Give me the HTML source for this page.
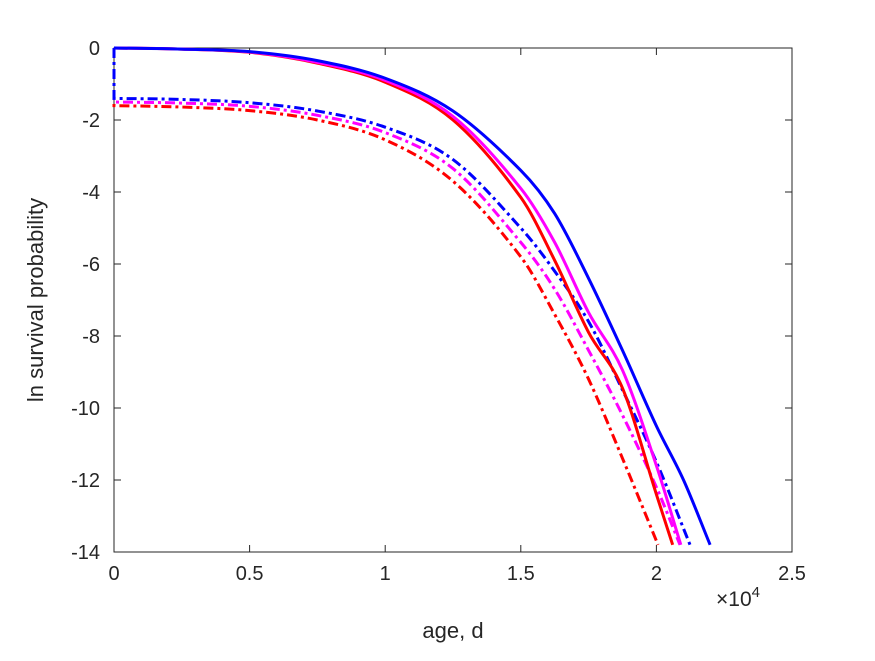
<!DOCTYPE html>
<html><head><meta charset="utf-8"><style>
body{margin:0;background:#fff;font-family:"Liberation Sans",sans-serif}
svg text{font-family:"Liberation Sans",sans-serif;fill:#262626}
</style></head><body>
<svg width="875" height="656">
<g id="axes"></g>
<g id="series"></g>
</svg>
<script>
const xTicks=[0,0.5,1,1.5,2,2.5];
const yTicks=[0,-2,-4,-6,-8,-10,-12,-14];
const blueSolidT=[0,0.25,0.5,0.75,1,1.25,1.5,1.625,1.75,1.875,2,2.1,2.198];
const blueSolid=[0,-0.03,-0.1,-0.35,-0.84,-1.75,-3.4,-4.6,-6.4,-8.4,-10.5,-12.0,-13.8];
const magentaSolidT=[0,0.25,0.5,0.75,1,1.25,1.5,1.625,1.75,1.875,2,2.09];
const magentaSolid=[0,-0.03,-0.11,-0.4,-0.9,-1.9,-3.9,-5.4,-7.35,-8.95,-11.6,-13.8];
const redSolidT=[0,0.25,0.5,0.75,1,1.25,1.5,1.625,1.75,1.875,2,2.06];
const redSolid=[0,-0.03,-0.12,-0.42,-0.95,-2.0,-4.15,-5.9,-7.9,-9.45,-12.4,-13.8];
const blueDashT=[0,0.25,0.5,0.75,1,1.25,1.5,1.625,1.75,1.875,2,2.124];
const blueDash=[-1.4,-1.43,-1.52,-1.75,-2.2,-3.1,-5.0,-6.2,-7.6,-9.5,-11.5,-13.8];
const magentaDashT=[0,0.25,0.5,0.75,1,1.25,1.5,1.625,1.75,1.875,2,2.087];
const magentaDash=[-1.5,-1.53,-1.62,-1.87,-2.35,-3.35,-5.4,-6.7,-8.4,-10.2,-12.2,-13.8];
const redDashT=[0,0.25,0.5,0.75,1,1.25,1.5,1.625,1.75,1.875,2.006];
const redDash=[-1.6,-1.64,-1.74,-2.0,-2.55,-3.7,-5.8,-7.4,-9.2,-11.4,-13.8];
const L=114,R=792,T=48,B=552;
const X=t=>L+(t-0)/(2.5)*(R-L);
const Y=v=>T+(0-v)/14*(B-T);
const NS="http://www.w3.org/2000/svg";
function mk(tag,attrs,parent){const e=document.createElementNS(NS,tag);for(const k in attrs)e.setAttribute(k,attrs[k]);parent.appendChild(e);return e;}
const ax=document.getElementById('axes');
const box=mk('rect',{x:L,y:T,width:R-L,height:B-T,fill:'none',stroke:'#262626','stroke-width':1},ax);


xTicks.forEach(t=>{
 const l=mk('path',{d:`M${X(t)},${B}v-7M${X(t)},${T}v7`,stroke:'#262626'},ax);
 
 
 const tx=mk('text',{x:X(t),y:B+28,'text-anchor':'middle','font-size':20},ax);tx.textContent=String(t);
 
 
});
yTicks.forEach(v=>{
 const l=mk('path',{d:`M${L},${Y(v)}h7M${R},${Y(v)}h-7`,stroke:'#262626'},ax);
 
 
 const tx=mk('text',{x:L-14,y:Y(v)+7,'text-anchor':'end','font-size':20},ax);tx.textContent=String(v);
 
 
});
const xl=mk('text',{x:453,y:638,'text-anchor':'middle','font-size':22},ax);xl.textContent='age, d';


const yl=mk('text',{x:0,y:0,'text-anchor':'middle','font-size':22,transform:`translate(43,300) rotate(-90)`},ax);yl.textContent='ln survival probability';


const ex=mk('text',{x:716,y:606,'font-size':21},ax);ex.innerHTML='×10<tspan dy="-9" font-size="15">4</tspan>';


const sg=document.getElementById('series');
function pathFrom(ts,vs){
 const n=ts.length;
 const px=ts.map(X),py=vs.map(Y);
 const m=[];
 for(let i=0;i<n;i++){
  const a=Math.max(0,i-1),b=Math.min(n-1,i+1);
  m.push((py[b]-py[a])/(px[b]-px[a]));
 }
 let d=`M${px[0]},${py[0]}`;
 for(let i=0;i<n-1;i++){
  const h=px[i+1]-px[i];
  d+=`C${px[i]+h/3},${py[i]+m[i]*h/3} ${px[i+1]-h/3},${py[i+1]-m[i+1]*h/3} ${px[i+1]},${py[i+1]}`;
 }
 return d;
}
function draw(name,ts,vals,color,dashed){
 let d=pathFrom(ts,vals);
 if(dashed) d=`M${X(0)},${Y(0)}L${X(0)},${Y(vals[0])}`+d.replace(/^M/,'L');
 const p=mk('path',{d:d,fill:'none',stroke:color,'stroke-width':3,'stroke-dasharray':dashed?'10,4,3,4':'none'},sg);
 
 
}
draw('red-dash',redDashT,redDash,'#ff0000',true);
draw('magenta-dash',magentaDashT,magentaDash,'#ff00ff',true);
draw('blue-dash',blueDashT,blueDash,'#0000ff',true);
draw('red-solid',redSolidT,redSolid,'#ff0000',false);
draw('magenta-solid',magentaSolidT,magentaSolid,'#ff00ff',false);
draw('blue-solid',blueSolidT,blueSolid,'#0000ff',false);
</script>
</body></html>
